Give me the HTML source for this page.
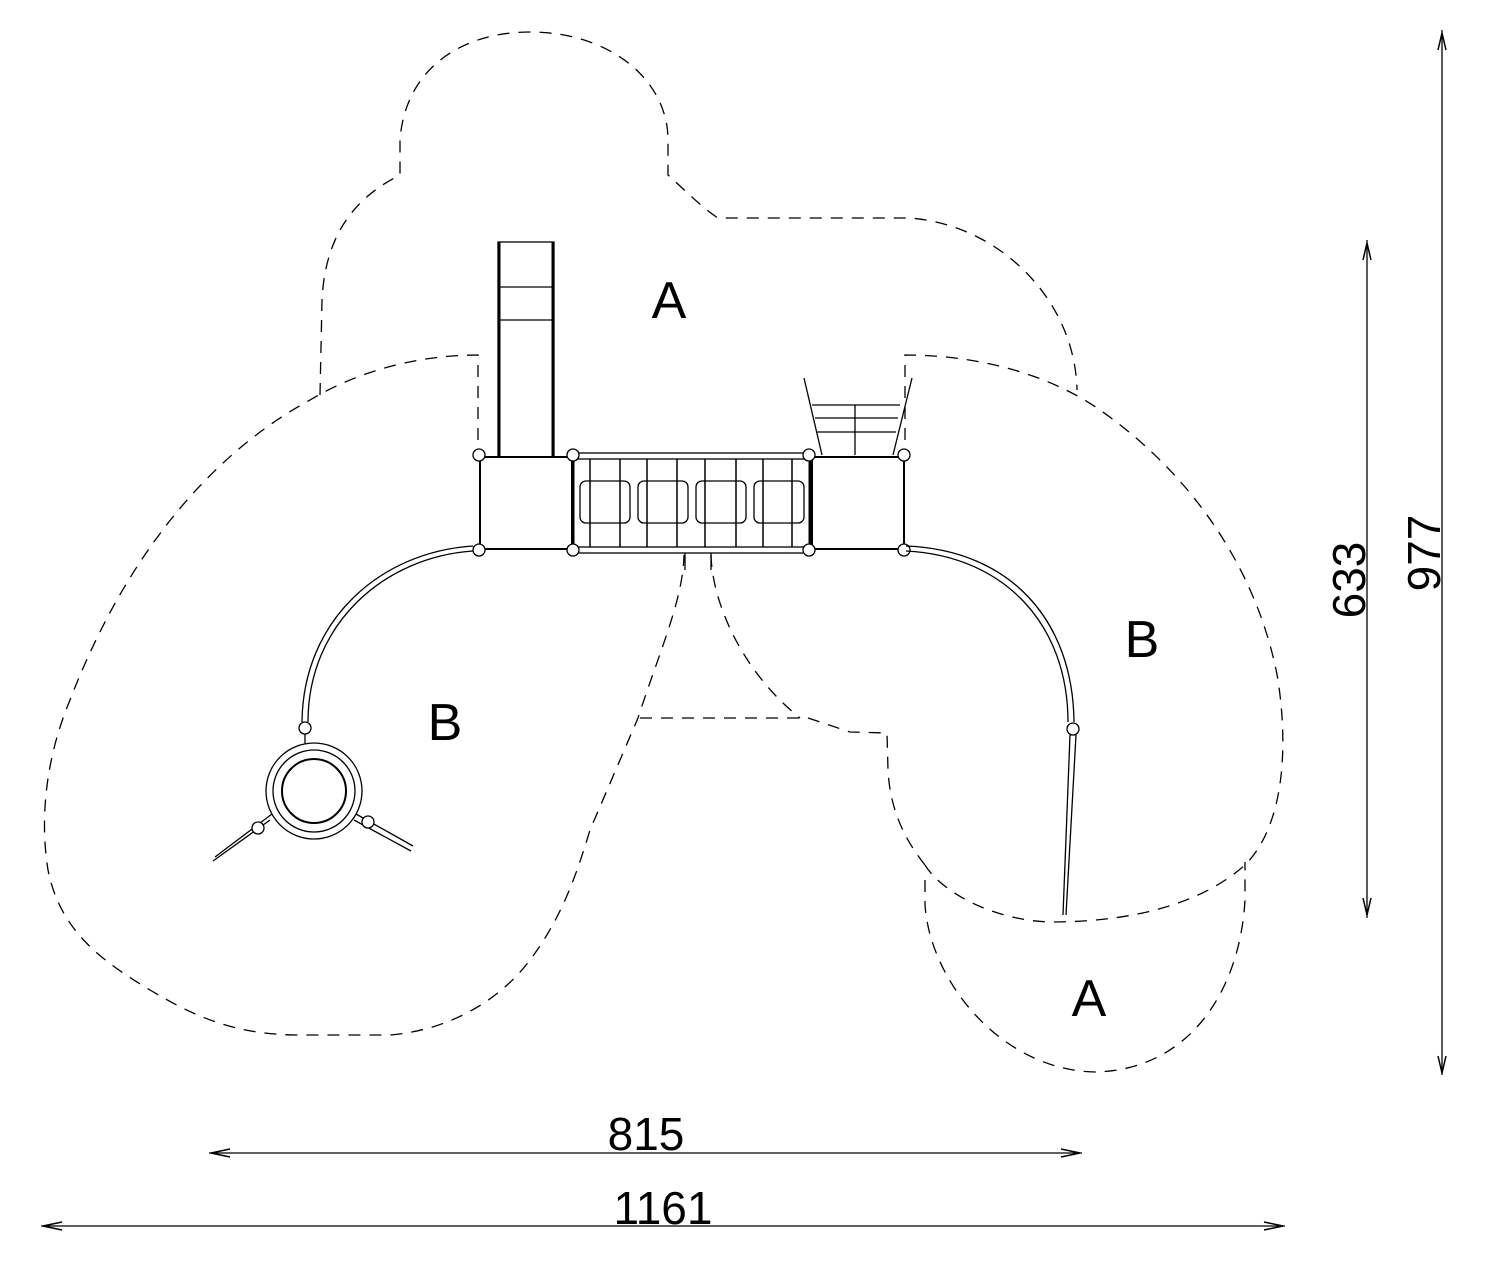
<!DOCTYPE html>
<html><head><meta charset="utf-8"><style>
html,body{margin:0;padding:0;background:#fff}
svg{display:block}
text{font-family:"Liberation Sans",sans-serif;fill:#000}
</style></head><body>
<svg width="1506" height="1275" viewBox="0 0 1506 1275" xmlns="http://www.w3.org/2000/svg">
<g fill="none" stroke="#000" stroke-width="1.3" stroke-dasharray="12,9">
<!-- top A -->
<path d="M320,395 L322,300 C325,240 350,200 400,175 L400,140 C405,70 460,32 530,32 C610,32 668,80 668,140 L668,175 C690,195 705,210 718,218 L910,218 C1000,225 1075,300 1077,390"/>
<!-- left B -->
<path d="M478,440 L478,355 C420,355 360,370 310,400 C200,460 120,570 70,700 C45,760 40,820 48,870 C60,930 100,960 150,990 C200,1020 240,1035 300,1035 L390,1035 C450,1030 500,1000 530,960 C560,920 575,880 590,830 L638,718 C660,650 683,600 684,555"/>
<!-- center -->
<path d="M711,555 C712,600 740,670 800,718"/>
<path d="M640,718 L808,718 L850,732 L887,733 L888,770 C890,810 905,840 925,865"/>
<!-- right B -->
<path d="M905,440 L905,355 C980,355 1050,375 1100,410 C1200,480 1260,580 1278,680 C1290,760 1280,830 1245,865 C1200,905 1130,922 1050,922 C990,920 940,890 925,865"/>
<!-- bottom A -->
<path d="M925,880 L925,905 C930,980 1000,1070 1095,1072 C1190,1070 1240,990 1245,900 L1245,862"/>
</g>
<g fill="none" stroke="#000" stroke-width="1.3">
<!-- slide -->
<rect x="498" y="242" width="56" height="215"/>
<line x1="498" y1="287" x2="554" y2="287"/><line x1="498" y1="320" x2="554" y2="320"/>
<line x1="499" y1="242" x2="499" y2="457" stroke-width="3"/><line x1="553" y1="242" x2="553" y2="457" stroke-width="3"/>
<!-- platforms -->
<rect x="480" y="457" width="92" height="92" stroke-width="2"/>
<rect x="812" y="457" width="92" height="92" stroke-width="2"/>
<!-- bridge -->
<rect x="572" y="453" width="240" height="6"/>
<rect x="572" y="547" width="240" height="6"/>
<line x1="573" y1="459" x2="573" y2="547" stroke-width="3"/>
<line x1="810" y1="459" x2="810" y2="547" stroke-width="3"/>
<rect x="580" y="481" width="50" height="42" rx="6"/>
<rect x="638" y="481" width="50" height="42" rx="6"/>
<rect x="696" y="481" width="50" height="42" rx="6"/>
<rect x="754" y="481" width="50" height="42" rx="6"/>
<g stroke-width="1.5">
<line x1="590" y1="459" x2="590" y2="547"/><line x1="620" y1="459" x2="620" y2="547"/>
<line x1="647" y1="459" x2="647" y2="547"/><line x1="677" y1="459" x2="677" y2="547"/>
<line x1="705" y1="459" x2="705" y2="547"/><line x1="736" y1="459" x2="736" y2="547"/>
<line x1="763" y1="459" x2="763" y2="547"/><line x1="792" y1="459" x2="792" y2="547"/>
</g>
<!-- posts -->
<g fill="#fff">
<circle cx="479" cy="455" r="6"/><circle cx="573" cy="455" r="6"/><circle cx="809" cy="455" r="6"/><circle cx="904" cy="455" r="6"/>
<circle cx="479" cy="550" r="6"/><circle cx="573" cy="550" r="6"/><circle cx="809" cy="550" r="6"/><circle cx="904" cy="550" r="6"/>
</g>
<line x1="685" y1="553" x2="685" y2="570"/><line x1="711" y1="553" x2="711" y2="570"/>
<!-- climbing net -->
<path d="M804,378 L822,455 M912,378 L893,455"/>
<path d="M812,405 L900,405 M815,418 L898,418 M817,432 L896,432"/>
<line x1="855" y1="405" x2="855" y2="455"/>
<!-- left rail -->
<path d="M473,546 C380,552 303,620 302,722"/>
<path d="M473,551 C384,557 308,624 308,722"/>
<circle cx="305" cy="728" r="6" fill="#fff"/>
<!-- ring -->
<circle cx="314" cy="791" r="48"/>
<circle cx="314" cy="791" r="41"/>
<circle cx="314" cy="791" r="32" stroke-width="2"/>
<line x1="305" y1="734" x2="305" y2="744"/>
<path d="M272,814 L215,857 M270,820 L213,861"/>
<circle cx="258" cy="828" r="6" fill="#fff"/>
<path d="M356,814 L413,846 M354,820 L411,851"/>
<circle cx="368" cy="822" r="6" fill="#fff"/>
<!-- right rail -->
<path d="M906,546 C1010,550 1073,620 1074,722"/>
<path d="M906,551 C1005,556 1068,625 1068,722"/>
<circle cx="1073" cy="729" r="6" fill="#fff"/>
<path d="M1070,735 L1063,915 M1076,735 L1066,915"/>
<!-- dimensions -->
<line x1="1442" y1="30" x2="1442" y2="1075"/>
<path d="M1438,50 L1442,33 L1446,50 M1438,1056 L1442,1073 L1446,1056" stroke-width="1.5"/>
<line x1="1367" y1="240" x2="1367" y2="918"/>
<path d="M1363,260 L1367,243 L1371,260 M1363,898 L1367,915 L1371,898" stroke-width="1.5"/>
<line x1="209" y1="1153" x2="1082" y2="1153"/>
<path d="M230,1149 L211,1153 L230,1157 M1061,1149 L1080,1153 L1061,1157" stroke-width="1.5"/>
<line x1="41" y1="1226" x2="1285" y2="1226"/>
<path d="M62,1222 L43,1226 L62,1230 M1264,1222 L1283,1226 L1264,1230" stroke-width="1.5"/>
</g>
<g font-size="52">
<text x="669" y="318" text-anchor="middle">A</text>
<text x="445" y="740" text-anchor="middle">B</text>
<text x="1142" y="657" text-anchor="middle">B</text>
<text x="1089" y="1016" text-anchor="middle">A</text>
</g>
<g font-size="46">
<text x="646" y="1150" text-anchor="middle">815</text>
<text x="663" y="1224" text-anchor="middle">1161</text>
<text transform="translate(1365,580) rotate(-90)" text-anchor="middle">633</text>
<text transform="translate(1440,553) rotate(-90)" text-anchor="middle">977</text>
</g>
</svg>
</body></html>
